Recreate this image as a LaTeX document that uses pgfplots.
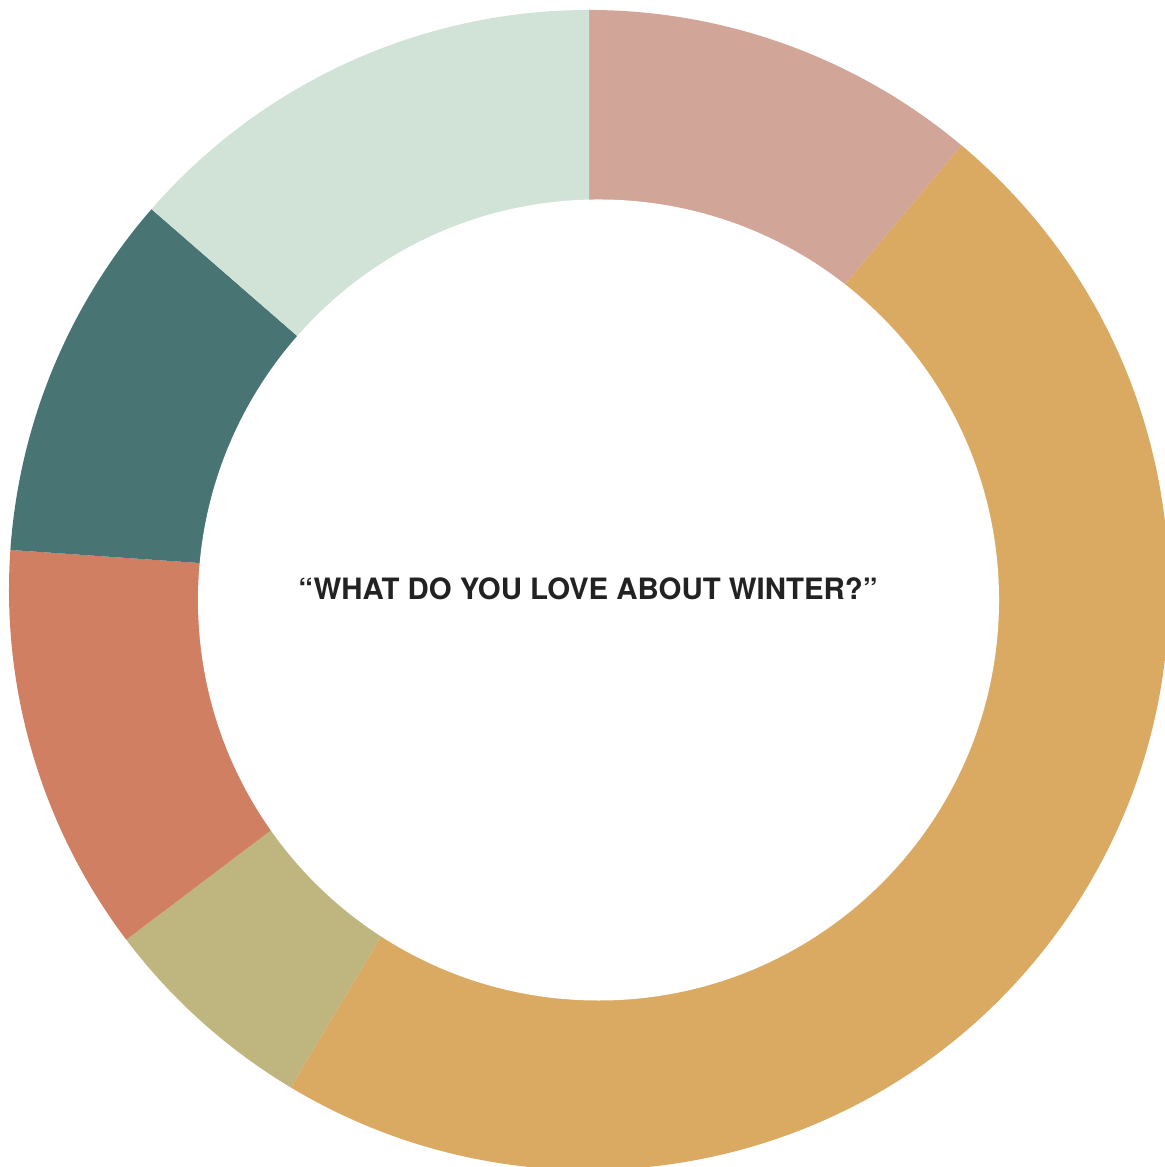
\documentclass[border=0pt]{standalone}
\usepackage{pgfplots}
\pgfplotsset{compat=1.18}
\usepackage{pgfplotstable}
\usepackage{fontspec}
\setmainfont{TeX Gyre Heros}
\definecolor{cPink}{RGB}{209,165,152}
\definecolor{cGold}{RGB}{218,170,98}
\definecolor{cKhaki}{RGB}{191,181,127}
\definecolor{cRust}{RGB}{208,127,98}
\definecolor{cTeal}{RGB}{73,116,116}
\definecolor{cMint}{RGB}{209,226,214}
\definecolor{cText}{RGB}{34,34,34}
% share of answers (percent), clockwise from 12 o'clock
\pgfplotstableread{
label value color
s1 11.1 cPink
s2 47.5 cGold
s3 6.1 cKhaki
s4 11.4 cRust
s5 10.3 cTeal
s6 13.6 cMint
}\slices
\pgfmathsetmacro\acc{90}%
\pgfplotsforeachungrouped \i in {0,...,5}{%
  \pgfplotstablegetelem{\i}{value}\of\slices
  \pgfmathsetmacro\sspan{\pgfplotsretval*3.6}%
  \expandafter\xdef\csname sA\i\endcsname{\acc}%
  \pgfmathsetmacro\acc{\acc-\sspan}%
  \expandafter\xdef\csname sB\i\endcsname{\acc}%
  \pgfplotstablegetelem{\i}{color}\of\slices
  \expandafter\xdef\csname sC\i\endcsname{\pgfplotsretval}%
}%
\begin{document}
\begin{tikzpicture}
\begin{axis}[
  x=0.5bp, y=0.5bp,
  xmin=0, xmax=1165, ymin=0, ymax=1167,
  hide axis, clip=true,
]
\pgfplotsinvokeforeach{0,...,5}{
  \fill[fill=\csname sC#1\endcsname] (axis cs:589,577) -- ++(\csname sA#1\endcsname:290bp)
    arc[start angle=\csname sA#1\endcsname, end angle=\csname sB#1\endcsname, radius=290bp] -- cycle;
}
\fill[white] (axis cs:598.5,567) circle[radius=200.25bp];
\node[text=cText, font=\fontsize{14.7bp}{17bp}\selectfont\bfseries, anchor=center]
  at (axis cs:588,578) {“WHAT DO YOU LOVE ABOUT WINTER?”};
\path (rel axis cs:0,0) coordinate (bl) (rel axis cs:1,1) coordinate (tr);
\end{axis}
\pgfresetboundingbox
\useasboundingbox (bl) rectangle (tr);
\end{tikzpicture}
\end{document}
